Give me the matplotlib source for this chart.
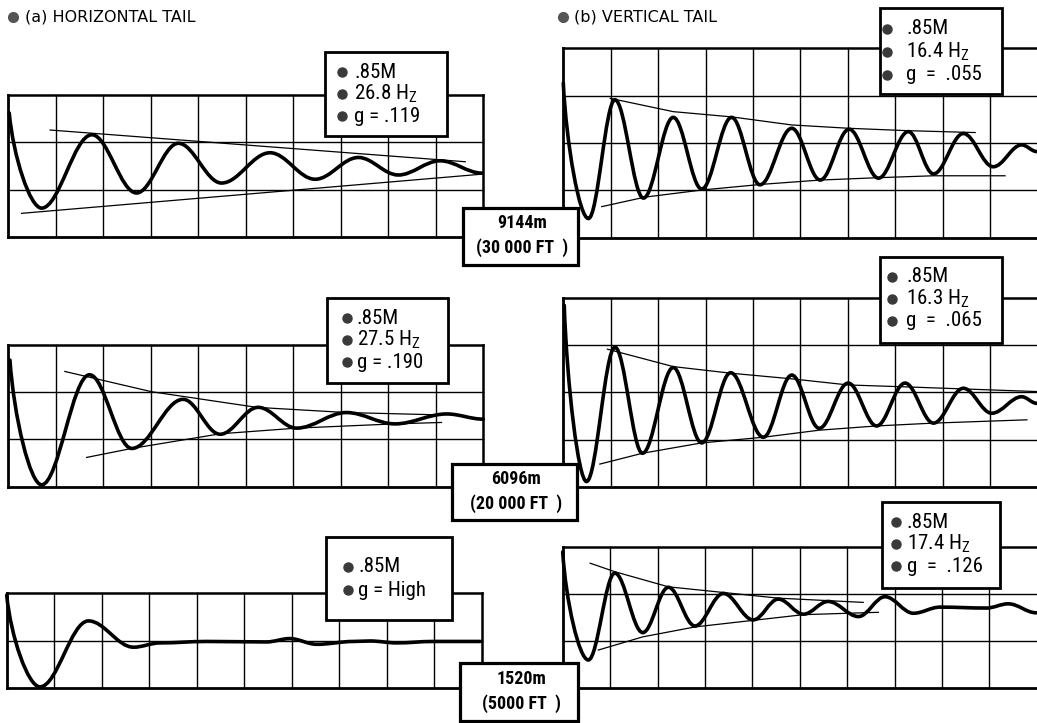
import matplotlib
matplotlib.use("Agg")
import matplotlib.pyplot as plt
from matplotlib.path import Path
from matplotlib.patches import PathPatch, Rectangle

W, H = 1037, 723
NARROW = ['Roboto Condensed', 'DejaVu Sans']
plt.rcParams['font.family'] = NARROW
plt.rcParams['font.stretch'] = 'condensed'

# ---- traces, in grid divisions (x: 10 divisions, y: rows from the bottom) ----
# (a) horizontal tail, 9144 m
ht30_x = [0.02, 0.70, 1.76, 2.70, 3.58, 4.49, 5.51, 6.46, 7.37, 8.21, 9.09, 9.97]
ht30_y = [2.62, 0.61, 2.16, 0.93, 1.98, 1.14, 1.78, 1.22, 1.68, 1.31, 1.61, 1.35]
ht30_up_x = [0.88, 9.62]
ht30_up_y = [2.26, 1.59]
ht30_lo_x = [0.28, 10.0]
ht30_lo_y = [0.50, 1.33]

# (b) vertical tail, 9144 m
vt30_x = [0.0, 0.53, 1.09, 1.69, 2.32, 2.92, 3.55, 4.15, 4.82, 5.42, 6.03, 6.65, 7.28, 7.81, 8.44, 9.07, 9.67, 9.99]
vt30_y = [3.26, 0.41, 2.91, 0.84, 2.54, 1.03, 2.54, 1.12, 2.31, 1.22, 2.29, 1.26, 2.24, 1.35, 2.20, 1.50, 1.96, 1.82]
vt30_up_x = [0.99, 2.32, 3.55, 4.82, 6.02, 7.25, 8.69]
vt30_up_y = [2.94, 2.66, 2.55, 2.38, 2.31, 2.26, 2.22]
vt30_lo_x = [0.81, 1.72, 2.92, 4.19, 5.42, 6.65, 7.81, 9.32]
vt30_lo_y = [0.66, 0.86, 1.01, 1.13, 1.22, 1.27, 1.31, 1.31]

# (a) horizontal tail, 6096 m
ht20_x = [0.035, 0.70, 1.71, 2.60, 3.68, 4.46, 5.26, 6.07, 7.12, 8.14, 9.23, 10.0]
ht20_y = [2.68, 0.04, 2.37, 0.81, 1.85, 1.11, 1.68, 1.24, 1.57, 1.33, 1.54, 1.43]
ht20_up_x = [1.19, 3.02, 5.23, 7.12, 9.12]
ht20_up_y = [2.44, 2.01, 1.68, 1.57, 1.52]
ht20_lo_x = [1.65, 2.60, 4.46, 6.07, 8.14, 9.12]
ht20_lo_y = [0.62, 0.81, 1.12, 1.24, 1.33, 1.36]

# (b) vertical tail, 6096 m
vt20_x = [0.02, 0.49, 1.09, 1.67, 2.32, 2.92, 3.53, 4.22, 4.82, 5.40, 6.01, 6.61, 7.21, 7.81, 8.44, 9.04, 9.67, 9.99]
vt20_y = [3.85, 0.11, 2.96, 0.71, 2.53, 0.93, 2.42, 1.05, 2.37, 1.24, 2.20, 1.29, 2.20, 1.35, 2.09, 1.56, 1.91, 1.77]
vt20_up_x = [0.93, 2.32, 3.53, 4.82, 6.01, 7.21, 9.99]
vt20_up_y = [2.92, 2.55, 2.41, 2.29, 2.16, 2.12, 2.02]
vt20_lo_x = [0.77, 1.67, 2.92, 4.22, 5.40, 6.61, 7.81, 9.78]
vt20_lo_y = [0.48, 0.71, 0.93, 1.05, 1.20, 1.29, 1.35, 1.42]

# (a) horizontal tail, 1520 m
ht5_x = [0.0, 0.70, 1.72, 2.67, 3.23, 4.21, 5.47, 5.96, 6.53, 7.30, 7.65, 8.21, 8.98, 9.97]
ht5_y = [1.95, 0.03, 1.41, 0.86, 0.95, 0.98, 0.97, 1.04, 0.92, 0.98, 0.99, 0.95, 0.98, 0.98]

# (b) vertical tail, 1520 m
vt5_x = [0.0, 0.54, 1.10, 1.69, 2.23, 2.79, 3.39, 4.02, 4.55, 5.08, 5.60, 6.24, 6.80, 7.40, 7.96, 8.94, 9.40, 9.99]
vt5_y = [2.89, 0.60, 2.44, 1.18, 2.14, 1.32, 2.01, 1.45, 1.89, 1.57, 1.84, 1.52, 1.94, 1.59, 1.72, 1.70, 1.79, 1.60]
vt5_up_x = [0.58, 1.10, 2.23, 3.39, 4.55, 6.34]
vt5_up_y = [2.65, 2.47, 2.15, 2.03, 1.91, 1.82]
vt5_lo_x = [0.75, 1.69, 2.79, 4.02, 5.08, 6.66]
vt5_lo_y = [0.81, 1.09, 1.30, 1.44, 1.56, 1.61]

# ---- annotations ----
mach = '.85M'
ht30_labels = [mach, r'26.8 $\mathregular{H_Z}$', 'g = .119']
vt30_labels = [mach, r'16.4 $\mathregular{H_Z}$', 'g  =  .055']
ht20_labels = [mach, r'27.5 $\mathregular{H_Z}$', 'g = .190']
vt20_labels = [mach, r'16.3 $\mathregular{H_Z}$', 'g  =  .065']
ht5_labels = [mach, 'g = High']
vt5_labels = [mach, r'17.4 $\mathregular{H_Z}$', 'g  =  .126']
alt_m = ['9144m', '6096m', '1520m']
alt_ft = ['(30 000 FT  )', '(20 000 FT  )', '(5000 FT  )']
titles = ['(a) HORIZONTAL TAIL', '(b) VERTICAL TAIL']


def wave_path(xs, ys, k=0.36):
    # smooth trace: horizontal tangent at each peak/trough, steep start
    verts = [(xs[0], ys[0])]
    codes = [Path.MOVETO]
    for i in range(1, len(xs)):
        x0, y0, x1, y1 = xs[i - 1], ys[i - 1], xs[i], ys[i]
        dx = x1 - x0
        if i == 1:
            c1 = (x0 + 0.12 * dx, y0 + 0.45 * (y1 - y0))
        else:
            c1 = (x0 + k * dx, y0)
        c2 = (x1 - k * dx, y1)
        verts += [c1, c2, (x1, y1)]
        codes += [Path.CURVE4] * 3
    return Path(verts, codes)


def draw_panel(fig, box, rows, xs, ys, envs=(), right=True):
    l, t, r, b = box
    ax = fig.add_axes([l / W, 1 - b / H, (r - l) / W, (b - t) / H])
    ax.set_xlim(0, 10)
    ax.set_ylim(0, rows)
    ax.axis('off')
    for i in range(1, 10):
        ax.plot([i, i], [0, rows], color='k', lw=1.0, clip_on=False)
    for j in range(1, rows):
        ax.plot([0, 10], [j, j], color='k', lw=1.0, clip_on=False)
    ax.plot([0, 10], [rows, rows], color='k', lw=1.8, clip_on=False)
    ax.plot([0, 10], [0, 0], color='k', lw=2.0, clip_on=False)
    ax.plot([0, 0], [0, rows], color='k', lw=2.0, clip_on=False)
    if right:
        ax.plot([10, 10], [0, rows], color='k', lw=1.8, clip_on=False)
    for ex, ey in envs:
        ax.plot(ex, ey, color='k', lw=0.9, clip_on=False)
    ax.add_patch(PathPatch(wave_path(xs, ys), fill=False, lw=2.6, edgecolor='k',
                           capstyle='round', joinstyle='round', clip_on=False))
    return ax


def label_box(ov, box, labels, dot_x, text_x, first, step):
    l, t, r, b = box
    ov.add_patch(Rectangle((l, t), r - l, b - t, facecolor='white', edgecolor='k', lw=2.0))
    for i, s in enumerate(labels):
        y = t + first + i * step
        ov.plot(dot_x, y, 'o', ms=6.5, color='#3a3a3a')
        ov.text(text_x, y, s, fontsize=15, va='center', ha='left')


def alt_box(ov, box, top, bottom):
    l, t, r, b = box
    ov.add_patch(Rectangle((l, t), r - l, b - t, facecolor='white', edgecolor='k', lw=2.3))
    cx = (l + r) / 2 + 2
    ov.text(cx, t + (b - t) * 0.27, top, fontsize=13, ha='center', va='center', fontweight='bold')
    ov.text(cx, t + (b - t) * 0.70, bottom, fontsize=13, ha='center', va='center', fontweight='bold')


fig = plt.figure(figsize=(W / 100, H / 100), dpi=100)
fig.patch.set_facecolor('white')

draw_panel(fig, (8.3, 95, 483.3, 237), 3, ht30_x, ht30_y,
           [(ht30_up_x, ht30_up_y), (ht30_lo_x, ht30_lo_y)])
draw_panel(fig, (563.3, 48, 1037.3, 238), 4, vt30_x, vt30_y,
           [(vt30_up_x, vt30_up_y), (vt30_lo_x, vt30_lo_y)], right=False)
draw_panel(fig, (8.3, 345, 483.3, 486.7), 3, ht20_x, ht20_y,
           [(ht20_up_x, ht20_up_y), (ht20_lo_x, ht20_lo_y)])
draw_panel(fig, (563.3, 298.3, 1037.3, 486.7), 4, vt20_x, vt20_y,
           [(vt20_up_x, vt20_up_y), (vt20_lo_x, vt20_lo_y)], right=False)
draw_panel(fig, (6.7, 592.7, 481.7, 688.3), 2, ht5_x, ht5_y)
draw_panel(fig, (562.7, 546.7, 1036.7, 688.3), 3, vt5_x, vt5_y,
           [(vt5_up_x, vt5_up_y), (vt5_lo_x, vt5_lo_y)], right=False)

# overlay in pixel coordinates for boxes and headings
ov = fig.add_axes([0, 0, 1, 1], zorder=10)
ov.set_xlim(0, W)
ov.set_ylim(H, 0)
ov.axis('off')
ov.patch.set_alpha(0)

head_font = ['DejaVu Sans']
ov.plot(13, 17, 'o', ms=7, color='#555555')
ov.text(25, 17, titles[0], fontsize=11.5, va='center', ha='left', family=head_font, stretch='normal')
ov.plot(563, 17, 'o', ms=7, color='#555555')
ov.text(574, 17, titles[1], fontsize=11.5, va='center', ha='left', family=head_font, stretch='normal')

label_box(ov, (325, 52, 447, 136), ht30_labels, 342, 354, 20, 22)
label_box(ov, (880, 8, 1002, 94), vt30_labels, 887, 906, 21, 23)
label_box(ov, (327, 298, 448, 383), ht20_labels, 347, 357, 20, 22)
label_box(ov, (880, 257, 1002, 343), vt20_labels, 892, 906, 20, 22)
label_box(ov, (326, 537, 452, 620), ht5_labels, 348, 358, 30, 23)
label_box(ov, (882, 502, 1000, 588), vt5_labels, 896, 907, 20, 22)

alt_box(ov, (463, 208, 578, 265), alt_m[0], alt_ft[0])
alt_box(ov, (452, 464, 577, 520), alt_m[1], alt_ft[1])
alt_box(ov, (460, 663, 578, 721), alt_m[2], alt_ft[2])

fig.savefig('out.png', dpi=100)
